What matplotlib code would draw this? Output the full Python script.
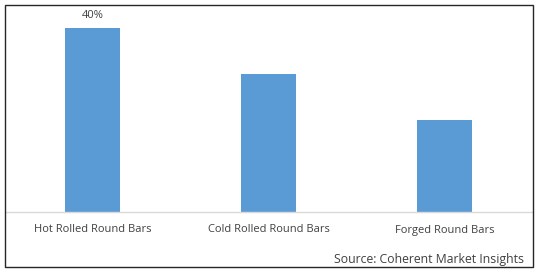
import matplotlib
matplotlib.use("Agg")
import matplotlib.pyplot as plt
from matplotlib.patches import Rectangle

# --------------------------------------------------------------------
# Data
# --------------------------------------------------------------------
categories = ["Hot Rolled Round Bars", "Cold Rolled Round Bars", "Forged Round Bars"]
shares = [40, 30, 20]
labels = ["40%", "", ""]

plt.rcParams['font.family'] = ['Open Sans', 'DejaVu Sans']

W, H = 538, 272
fig = plt.figure(figsize=(W/100, H/100), dpi=100)

# axes: x from 4.5 to 532.5 px, y from 5 to 212 px (top-down)
ax = fig.add_axes([4.5/W, (H-212)/H, 528/W, 207/H])
x = range(len(categories))
bars = ax.bar(x, shares, width=0.31, color='#5B9BD5', zorder=2)
for b, lab in zip(bars, labels):
    if lab:
        ax.text(b.get_x() + b.get_width()/2, b.get_height() + 1.5, lab,
                ha='center', va='bottom', fontsize=8, color='#404040')

ax.set_xlim(-0.5, 2.5)
ax.set_ylim(0, 45)
ax.set_yticks([])
ax.set_xticks(list(x))
ax.set_xticklabels(categories, fontsize=8, color='#404040')
ax.tick_params(axis='x', length=0, pad=9)
for s in ['top', 'left', 'right']:
    ax.spines[s].set_visible(False)
ax.spines['bottom'].set_color('#d9d9d9')
ax.spines['bottom'].set_linewidth(1)
ax.patch.set_visible(False)

# source text
fig.text(524/W, (H-259)/H, "Source: Coherent Market Insights", ha='right', va='center',
         fontsize=8.8, color='#404040')

# outer border
fig.patches.append(Rectangle((5/W, (H-267)/H), 528/W, 262/H, transform=fig.transFigure,
                             fill=False, edgecolor='#262626', linewidth=1))

plt.savefig("out.png", dpi=100)
plt.close()
